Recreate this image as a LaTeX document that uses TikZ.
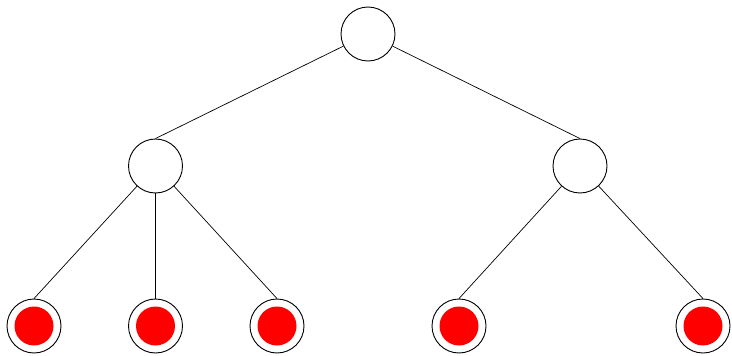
\documentclass[tikz,border=0pt]{standalone}
\begin{document}
\begin{tikzpicture}[x=1pt,y=-1pt,
  inner/.style={circle,draw=black,line width=0.9pt,minimum size=54pt,inner sep=0pt},
  leaf/.style={circle,draw=black,line width=0.9pt,minimum size=54pt,inner sep=0pt,
    path picture={\fill[red] (path picture bounding box.center) circle (19.5pt);}},
  edge/.style={draw=black,line width=0.7pt}]
\useasboundingbox (0,0) rectangle (732,356);
\node[inner] (r) at (368,34) {};
\node[inner] (a) at (155.5,166) {};
\node[inner] (b) at (580,166) {};
\node[leaf] (l1) at (34,326) {};
\node[leaf] (l2) at (155.5,326) {};
\node[leaf] (l3) at (277,326) {};
\node[leaf] (l4) at (459,326) {};
\node[leaf] (l5) at (703,326) {};
\draw[edge] (r) -- (a.north);
\draw[edge] (r) -- (b.north);
\draw[edge] (a) -- (l1.north);
\draw[edge] (a) -- (l2.north);
\draw[edge] (a) -- (l3.north);
\draw[edge] (b) -- (l4.north);
\draw[edge] (b) -- (l5.north);
\end{tikzpicture}
\end{document}
